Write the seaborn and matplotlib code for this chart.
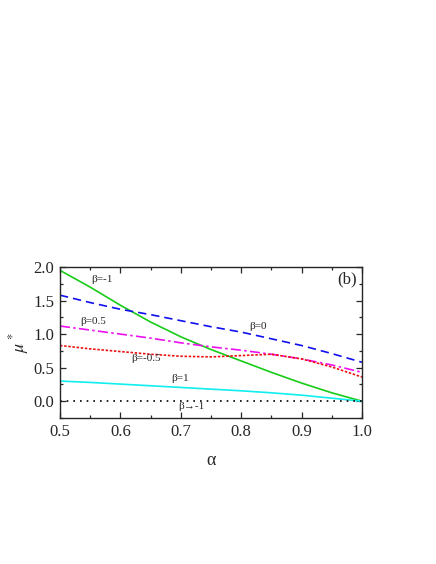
import numpy as np
import pandas as pd
import seaborn as sns
import matplotlib
matplotlib.use("Agg")
import matplotlib.pyplot as plt
from matplotlib.ticker import MultipleLocator

# values
alpha = [0.50, 0.55, 0.60, 0.65, 0.70, 0.75, 0.80, 0.85, 0.90, 0.95, 1.00]
mu_beta_m1 = [1.95, 1.70, 1.43, 1.18, 0.96, 0.77, 0.60, 0.43, 0.27, 0.125, 0.0]
mu_beta_0 = [1.58, 1.47, 1.37, 1.29, 1.20, 1.11, 1.03, 0.93, 0.83, 0.71, 0.58]
mu_beta_05 = [1.12, 1.06, 1.00, 0.94, 0.87, 0.81, 0.76, 0.70, 0.63, 0.54, 0.43]
mu_beta_m05 = [0.83, 0.78, 0.74, 0.70, 0.67, 0.66, 0.68, 0.70, 0.63, 0.51, 0.36]
mu_beta_1 = [0.30, 0.28, 0.255, 0.23, 0.205, 0.18, 0.155, 0.125, 0.09, 0.045, 0.0]
mu_beta_to_m1 = [0.0] * len(alpha)

series = [
    ("β=-1", mu_beta_m1, "#18cc18", "-"),
    ("β=0", mu_beta_0, "#1010ee", (0, (5, 3))),
    ("β=0.5", mu_beta_05, "#ee10ee", (0, (6, 2, 1.5, 2))),
    ("β=-0.5", mu_beta_m05, "#ee1010", (0, (1.5, 1))),
    ("β=1", mu_beta_1, "#10eeee", "-"),
    ("β→-1", mu_beta_to_m1, "black", (0, (1, 3))),
]

# label positions (alpha, mu)
labels = [
    ("β=-1", 0.570, 1.82),
    ("β=0", 0.828, 1.11),
    ("β=0.5", 0.555, 1.19),
    ("β=-0.5", 0.643, 0.63),
    ("β=1", 0.699, 0.34),
    ("β→-1", 0.718, -0.08),
]

sns.set_style("ticks")
plt.rcParams['font.family'] = ['Liberation Serif', 'DejaVu Serif']
plt.rcParams['mathtext.fontset'] = 'stix'

fig = plt.figure(figsize=(4.36, 5.64), dpi=100)
ax = fig.add_axes([0.1376, 0.2589, 0.6927, 0.2677])

for name, vals, color, ls in series:
    df = pd.DataFrame({"alpha": alpha, "mu": vals})
    sns.lineplot(data=df, x="alpha", y="mu", ax=ax, color=color,
                 linestyle=ls, linewidth=1.2, estimator=None)

for text, x, y in labels:
    ax.text(x, y, text, fontsize=8, ha="center", va="center")

ax.text(0.975, 1.82, "(b)", fontsize=12, ha="center", va="center")

ax.set_xlim(0.5, 1.0)
ax.set_ylim(-0.25, 2.0)
ax.xaxis.set_major_locator(MultipleLocator(0.1))
ax.xaxis.set_minor_locator(MultipleLocator(0.05))
ax.yaxis.set_major_locator(MultipleLocator(0.5))
ax.yaxis.set_minor_locator(MultipleLocator(0.25))
ax.tick_params(which="both", direction="in", top=True, right=True,
               labelsize=12, width=0.9)
ax.tick_params(which="major", length=4, pad=4)
ax.tick_params(which="minor", length=2.5)
for sp in ax.spines.values():
    sp.set_linewidth(1.0)
    sp.set_visible(True)

ax.set_xlabel("α", fontsize=13, labelpad=9)
ax.set_ylabel(r"$\mu^*$", fontsize=13, labelpad=2)

fig.savefig("out.png", dpi=100)
